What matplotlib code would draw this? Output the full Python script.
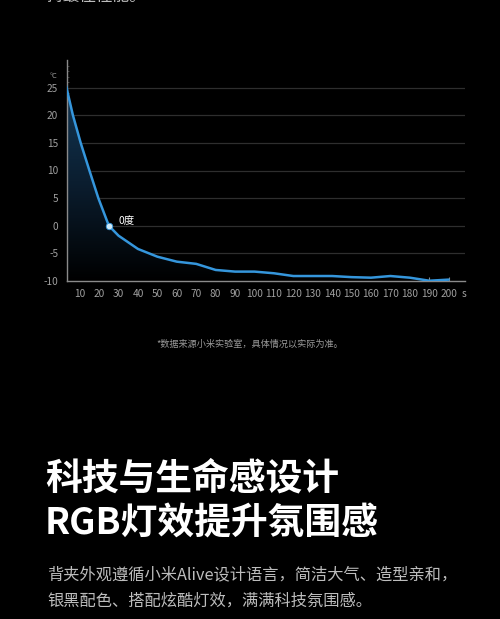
import numpy as np
import matplotlib
matplotlib.use("Agg")
import matplotlib.pyplot as plt
from matplotlib.patches import Polygon
from matplotlib.colors import LinearSegmentedColormap

plt.rcParams['font.family'] = ['Noto Sans CJK SC', 'DejaVu Sans']

# data
time_s = [3, 6.5, 10.5, 15, 19.6, 25, 30, 40, 50, 60, 70, 80, 90, 100, 110,
          120, 130, 140, 150, 160, 170, 180, 190, 200]
temp_c = [25.3, 20, 15, 10, 5, 0, -1.8, -4.2, -5.6, -6.5, -6.9, -8.0, -8.3, -8.3, -8.6,
          -9.1, -9.1, -9.1, -9.3, -9.4, -9.1, -9.4, -9.95, -9.75]
x_ticks = list(range(10, 201, 10))
y_ticks = [-10, -5, 0, 5, 10, 15, 20, 25]
marker_x, marker_y = 25, 0
marker_label = "0度"

top_text = "持最佳性能。"
footnote = "*数据来源小米实验室，具体情况以实际为准。"
title_lines = ["科技与生命感设计", "RGB灯效提升氛围感"]
body_lines = ["背夹外观遵循小米Alive设计语言，简洁大气、造型亲和，",
              "银黑配色、搭配炫酷灯效，满满科技氛围感。"]

W, H = 500, 619
fig = plt.figure(figsize=(W / 100, H / 100), dpi=100, facecolor='black')

ax = fig.add_axes([66.5 / W, 1 - 281 / H, (465 - 66.5) / W, (281 - 60) / H])
ax.set_facecolor('black')
ax.set_xlim(3.2, 208.4)
ax.set_ylim(-10, 30)

for v in y_ticks[1:]:
    ax.axhline(v, color='#2e2e2e', lw=0.9, zorder=1)

# gradient fill under curve
xs = np.array(time_s)
ys = np.array(temp_c)
verts = [(xs[0], -10)] + list(zip(xs, ys)) + [(xs[-1], -10)]
poly = Polygon(verts, closed=True, facecolor='none', edgecolor='none')
ax.add_patch(poly)
grad = np.linspace(0, 1, 256).reshape(-1, 1)
cmap = LinearSegmentedColormap.from_list('g', ['#000000', '#0b1e30', '#143957'])
im = ax.imshow(grad, extent=[3.2, 208.4, -10, 26], aspect='auto', cmap=cmap,
               origin='lower', zorder=2, vmin=0, vmax=1)
im.set_clip_path(poly)

ax.plot(xs, ys, color='#3596dc', lw=1.8, zorder=3, solid_capstyle='round')
ax.scatter([marker_x], [marker_y], s=22, color='#cfe9f7', zorder=4, edgecolors='#3596dc', linewidths=0.6)
ax.annotate(marker_label, (marker_x, marker_y), xytext=(7, 3), textcoords='offset points',
            color='white', fontsize=7.5, va='center', ha='left', zorder=5)

for s in ['top', 'right']:
    ax.spines[s].set_visible(False)
for s in ['left', 'bottom']:
    ax.spines[s].set_color('#8a8a8a')
    ax.spines[s].set_linewidth(1.0)

ax.set_xticks(x_ticks)
ax.set_xticklabels([str(t) for t in x_ticks])
ax.set_yticks(y_ticks)
ax.set_yticklabels([str(t) for t in y_ticks])
ax.tick_params(axis='x', direction='in', length=3, width=0.8, color='#8a8a8a',
               labelcolor='#a0a0a0', labelsize=7.3, pad=6)
ax.tick_params(axis='y', length=0, labelcolor='#a0a0a0', labelsize=7.3, pad=6)
ax.set_yticks(np.arange(-10, 30, 1), minor=True)
ax.tick_params(axis='y', which='minor', direction='in', length=1.5, width=0.5, color='#555555')

ax.text(464 / W, 1 - 294 / H, 's', transform=fig.transFigure, color='#a0a0a0',
        fontsize=7.3, ha='center', va='center')
ax.text(53 / W, 1 - 76 / H, '°C', transform=fig.transFigure, color='#a0a0a0',
        fontsize=5.5, ha='center', va='center')

# page texts
fig.text(47 / W, 1 - (-3) / H, top_text, color='#bdbdbd', fontsize=12, ha='left', va='center')
fig.text(250 / W, 1 - 344 / H, footnote, color='#9a9a9a', fontsize=6.6, ha='center', va='center')
fig.text(45 / W, 1 - 479 / H, title_lines[0], color='white', fontsize=26.5, fontweight='bold',
         ha='left', va='center')
fig.text(45 / W, 1 - 524 / H, title_lines[1], color='white', fontsize=26.5, fontweight='bold',
         ha='left', va='center')
fig.text(47 / W, 1 - 575 / H, body_lines[0], color='#bdbdbd', fontsize=11.7, ha='left', va='center')
fig.text(47 / W, 1 - 601 / H, body_lines[1], color='#bdbdbd', fontsize=11.7, ha='left', va='center')

fig.savefig('out.png', dpi=100, facecolor='black')
